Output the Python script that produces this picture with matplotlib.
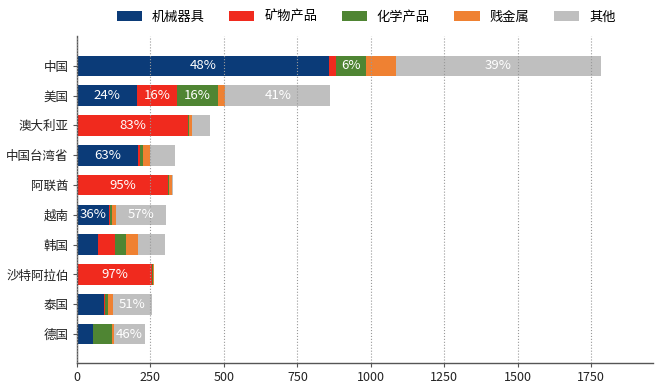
import matplotlib
matplotlib.use("Agg")
import matplotlib.pyplot as plt
import numpy as np

plt.rcParams['font.family'] = ['Noto Sans CJK SC', 'DejaVu Sans']

categories = ['中国', '美国', '澳大利亚', '中国台湾省', '阿联酋', '越南', '韩国', '沙特阿拉伯', '泰国', '德国']
series_names = ['机械器具', '矿物产品', '化学产品', '贱金属', '其他']
machinery = [857, 205, 2, 209, 2, 110, 73, 1, 92, 53]
minerals = [23, 134, 375, 5, 309, 2, 56, 253, 3, 2]
chemicals = [105, 142, 4, 10, 2, 6, 38, 4, 12, 65]
metals = [100, 24, 12, 25, 10, 14, 40, 3, 17, 6]
others = [697, 356, 59, 83, 3, 171, 93, 0, 130, 105]
# percentage labels shown in the chart ('' = not shown)
lab_machinery = ['48%', '24%', '', '63%', '', '36%', '', '', '', '']
lab_minerals = ['', '16%', '83%', '', '95%', '', '', '97%', '', '']
lab_chemicals = ['6%', '16%', '', '', '', '', '', '', '', '']
lab_metals = ['', '', '', '', '', '', '', '', '', '']
lab_others = ['39%', '41%', '', '', '', '57%', '', '', '51%', '46%']
xticks = [0, 250, 500, 750, 1000, 1250, 1500, 1750]

colors = ['#0b3b78', '#f02a1e', '#4f8533', '#ef8132', '#bfbfbf']

fig = plt.figure(figsize=(6.6, 3.9), dpi=100)
ax = fig.add_axes([77/660, 1 - 363/390, (653-77)/660, (363-36)/390])

data = [machinery, minerals, chemicals, metals, others]
labels = [lab_machinery, lab_minerals, lab_chemicals, lab_metals, lab_others]
y = np.arange(len(categories))
left = np.zeros(len(categories))
handles = []
for vals, lab, col, name in zip(data, labels, colors, series_names):
    vals = np.array(vals, dtype=float)
    b = ax.barh(y, vals, left=left, height=0.69, color=col, label=name, zorder=1)
    handles.append(b)
    for i, t in enumerate(lab):
        if t:
            ax.text(left[i] + vals[i] / 2, y[i], t, ha='center', va='center',
                    color='white', fontsize=9.5, zorder=3)
    left += vals

ax.set_yticks(y)
ax.set_yticklabels(categories, fontsize=9, color='#222222')
ax.set_xticks(xticks)
ax.set_xticklabels([str(v) for v in xticks], fontsize=9, color='#222222')
ax.set_xlim(0, 1960)
ax.set_ylim(9.97, -1.0)
ax.grid(axis='x', linestyle=':', color='#999999', linewidth=0.8, zorder=2)
ax.set_axisbelow(False)
for s in ['top', 'right']:
    ax.spines[s].set_visible(False)
for s in ['left', 'bottom']:
    ax.spines[s].set_color('#555555')
    ax.spines[s].set_linewidth(1.0)
ax.tick_params(axis='both', length=3, width=0.8, color='#555555', pad=3)

fig.legend(handles=handles, labels=series_names, loc='center', ncol=5,
           bbox_to_anchor=(366/660, 1 - 17/390), frameon=False, fontsize=9.5,
           handlelength=1.9, handleheight=0.83, columnspacing=1.86, handletextpad=0.76)

fig.savefig('out.png', dpi=100)
